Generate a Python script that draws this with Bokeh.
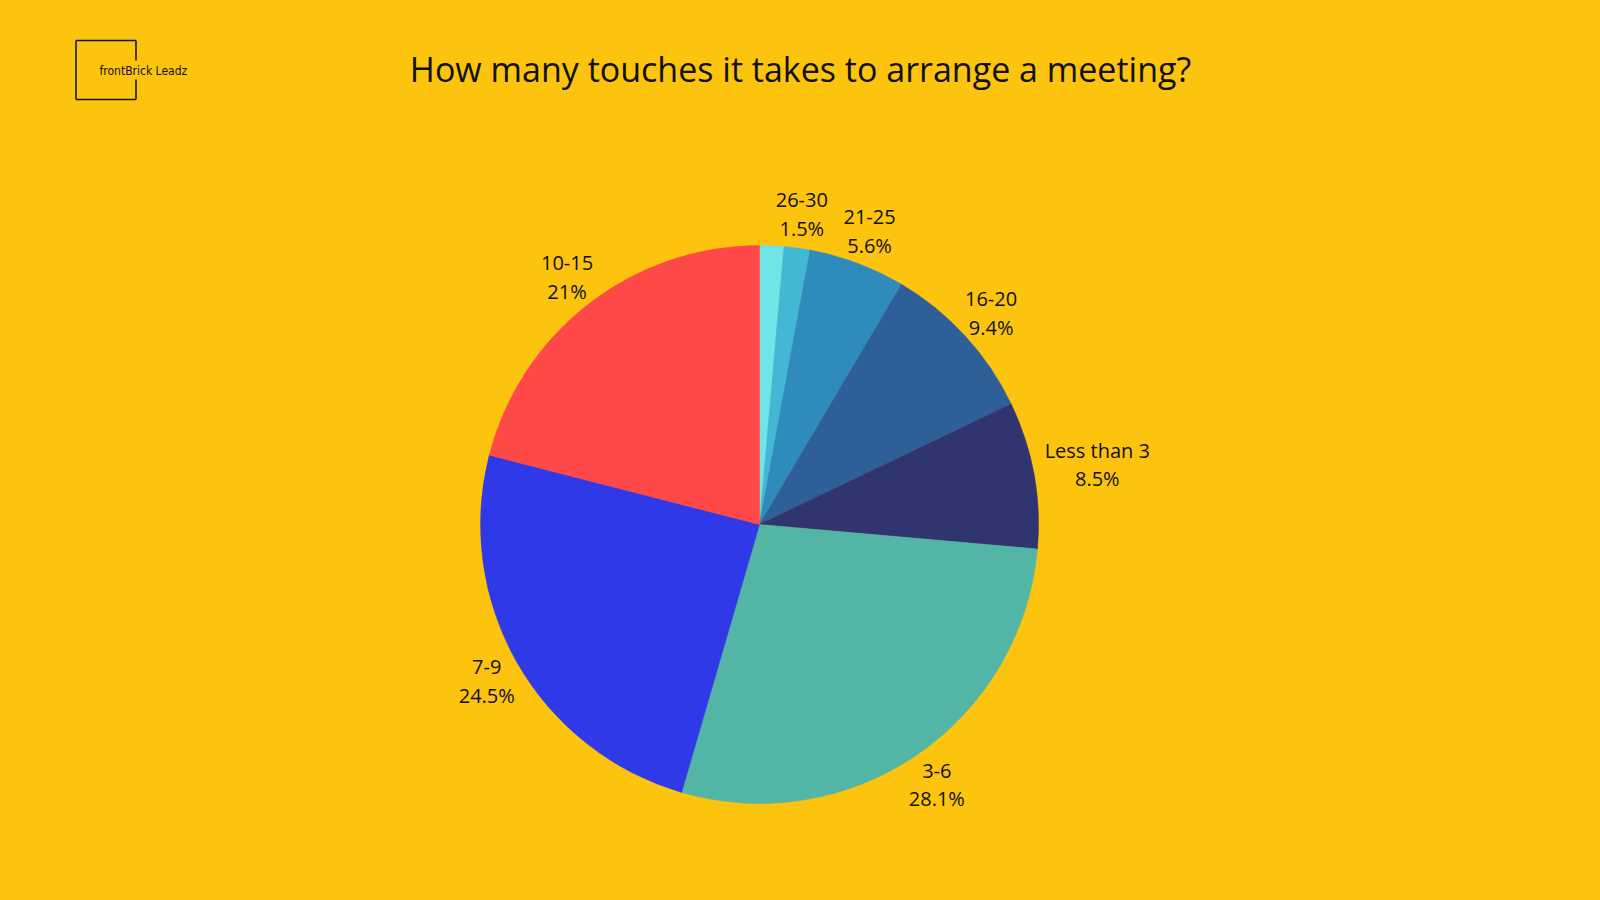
import math
from bokeh.plotting import figure
from bokeh.models import Range1d
from bokeh.core.properties import value
from bokeh.embed import file_html
from bokeh.resources import INLINE

# ---- data ----
categories = ["", "26-30", "21-25", "16-20", "Less than 3", "3-6", "7-9", "10-15"]
shares = [1.4, 1.5, 5.6, 9.4, 8.5, 28.1, 24.5, 21.0]
share_labels = ["", "1.5%", "5.6%", "9.4%", "8.5%", "28.1%", "24.5%", "21%"]
colors = ["#6fe5e8", "#43b8d5", "#2e8bbb", "#2f5f99", "#31356f", "#53b5a6", "#3039e8", "#ff4848"]
title_text = "How many touches it takes to arrange a meeting?"
logo_text = "frontBrick Leadz"

BG = "#fcc40f"
W, H = 1600, 900

p = figure(width=W, height=H, output_backend="svg", toolbar_location=None,
           x_range=Range1d(0, W), y_range=Range1d(0, H),
           x_axis_location=None, y_axis_location=None, min_border=0)
p.background_fill_color = BG
p.border_fill_color = BG
p.outline_line_color = None
p.xgrid.visible = False
p.ygrid.visible = False

# ---- pie ----
cx, cy, R = 759, 900 - 524, 279
total = sum(shares)
cum = 0.0
starts, ends, mids = [], [], []
for s in shares:
    a0 = math.pi / 2 - 2 * math.pi * cum / total
    cum += s
    a1 = math.pi / 2 - 2 * math.pi * cum / total
    starts.append(a0)
    ends.append(a1)
    mids.append((a0 + a1) / 2)

p.wedge(x=[cx] * len(shares), y=[cy] * len(shares), radius=R,
        start_angle=starts, end_angle=ends, direction="clock",
        fill_color=colors, line_color=colors, line_width=0.5)

# ---- labels ----
fs = 20
gap = 10
lx, ly1, ly2, t1, t2 = [], [], [], [], []
for cat, lab, ang in zip(categories, share_labels, mids):
    if not cat:
        continue
    hw = 0.5 * fs * max(len(cat), len(lab)) / 2
    hh = 25
    off = math.sqrt((hw * math.cos(ang)) ** 2 + (hh * math.sin(ang)) ** 2)
    r = R + gap + off
    x = cx + r * math.cos(ang)
    y = cy + r * math.sin(ang)
    lx.append(x)
    ly1.append(y + 13)
    ly2.append(y - 15)
    t1.append(cat)
    t2.append(lab)

p.text(x=lx, y=ly1, text=t1, text_align="center", text_baseline="middle",
       text_font=value("Open Sans"), text_font_size=f"{fs}px", text_color="#111111")
p.text(x=lx, y=ly2, text=t2, text_align="center", text_baseline="middle",
       text_font=value("Open Sans"), text_font_size=f"{fs}px", text_color="#111111")

# ---- title ----
p.text(x=[800], y=[900 - 68], text=[title_text], text_align="center", text_baseline="middle",
       text_font=value("Open Sans"), text_font_size="34px", text_color="#111111")

# ---- logo ----
x0, x1, y0, y1 = 75.5, 135.5, 900 - 99, 900 - 40
gtop, gbot = 900 - 60, 900 - 79
p.segment(x0=[x0, x0, x0, x1, x1], y0=[y0, y1, y0, y1, y0],
          x1=[x1, x1, x0, x1, x1], y1=[y0, y1, y1, gtop, gbot],
          line_color="#111111", line_width=1.5)
p.text(x=[99], y=[900 - 70], text=[logo_text], text_align="left", text_baseline="middle",
       text_font=value("DejaVu Sans Condensed"), text_font_size="12px", text_color="#111111")

template = "{% block preamble %}<style>html, body { background: #fcc40f; margin: 0; }</style>{% endblock %}"
open("out.html", "w").write(file_html(p, INLINE, template=template))
